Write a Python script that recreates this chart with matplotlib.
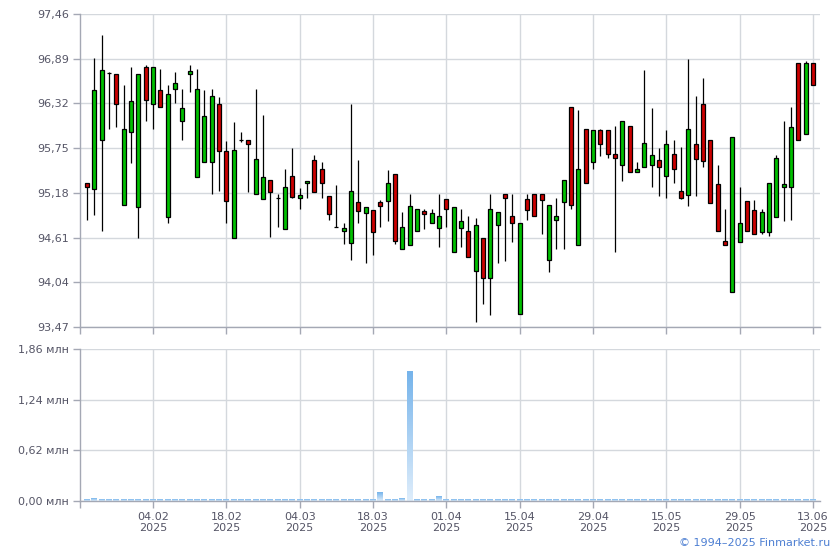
import matplotlib
matplotlib.use('Agg')
import matplotlib.pyplot as plt
import numpy as np
from matplotlib.colors import LinearSegmentedColormap

# OHLC по торговым дням (индекс = номер свечи)
opens = [95.30, 95.23, 95.85, 96.71, 96.69, 95.03, 95.96, 95.00, 96.79, 96.31,
         96.49, 94.87, 96.51, 96.10, 96.70, 95.38, 95.57, 95.57, 96.31, 95.71,
         94.61, 95.85, 95.85, 95.16, 95.10, 95.35, 95.11, 94.72, 95.40, 95.12,
         95.30, 95.60, 95.48, 95.14, 94.75, 94.70, 94.54, 95.06, 94.92, 94.96,
         95.06, 95.07, 95.42, 94.46, 94.52, 94.70, 94.95, 94.79, 94.73, 95.10,
         94.43, 94.73, 94.70, 94.18, 94.60, 94.10, 94.77, 95.16, 94.89, 93.64,
         95.10, 95.16, 95.16, 94.32, 94.84, 95.06, 96.28, 94.51, 95.99, 95.57,
         95.98, 95.98, 95.67, 95.53, 96.03, 95.45, 95.51, 95.53, 95.60, 95.40,
         95.67, 95.20, 95.15, 95.80, 96.31, 95.86, 95.29, 94.56, 93.91, 94.55,
         95.07, 94.96, 94.68, 94.68, 94.87, 95.25, 95.26, 96.83, 95.93, 96.83]
highs = [95.30, 96.90, 97.19, 96.72, 96.69, 96.55, 96.79, 96.70, 96.81, 96.79,
         96.76, 96.56, 96.72, 96.51, 96.81, 96.76, 96.49, 96.50, 96.40, 95.84,
         96.08, 95.95, 95.85, 96.50, 96.17, 95.35, 95.16, 95.48, 95.75, 95.24,
         95.33, 95.66, 95.57, 95.14, 95.28, 94.80, 96.31, 95.60, 95.00, 94.96,
         95.09, 95.47, 95.42, 94.93, 95.16, 94.97, 94.97, 94.97, 95.17, 95.10,
         95.00, 94.98, 94.89, 94.86, 94.60, 95.16, 94.93, 95.16, 95.16, 94.80,
         95.16, 95.16, 95.16, 95.02, 95.12, 95.35, 96.28, 96.23, 95.99, 95.98,
         96.00, 95.98, 96.03, 96.09, 96.03, 95.57, 96.74, 96.26, 95.75, 95.98,
         95.86, 95.77, 96.88, 96.42, 96.64, 95.86, 95.54, 94.97, 95.89, 95.26,
         95.07, 95.09, 94.97, 95.31, 95.66, 96.09, 96.28, 96.83, 96.86, 96.83]
lows = [94.83, 94.90, 94.69, 96.00, 96.02, 95.03, 95.56, 94.61, 96.10, 95.99,
        96.27, 94.79, 96.33, 95.85, 96.46, 95.38, 95.57, 95.16, 95.21, 94.79,
        94.61, 95.83, 95.19, 95.16, 95.10, 94.62, 94.74, 94.72, 95.12, 94.98,
        95.11, 95.19, 95.12, 94.84, 94.74, 94.53, 94.33, 94.79, 94.29, 94.39,
        94.74, 94.82, 94.53, 94.46, 94.52, 94.70, 94.72, 94.79, 94.49, 94.74,
        94.43, 94.49, 94.36, 93.54, 93.76, 93.62, 94.28, 94.31, 94.55, 93.64,
        94.84, 94.89, 94.65, 94.17, 94.47, 94.47, 94.97, 94.51, 95.30, 95.48,
        95.65, 95.62, 94.43, 95.33, 95.45, 95.45, 95.51, 95.26, 95.14, 95.11,
        95.30, 95.10, 95.01, 95.14, 95.51, 95.05, 94.70, 94.51, 93.91, 94.55,
        94.70, 94.65, 94.66, 94.63, 94.87, 94.82, 94.84, 95.85, 95.93, 96.55]
closes = [95.25, 96.49, 96.74, 96.71, 96.31, 96.00, 96.35, 96.70, 96.37, 96.79,
          96.27, 96.44, 96.58, 96.26, 96.73, 96.50, 96.16, 96.42, 95.71, 95.07,
          95.72, 95.85, 95.80, 95.61, 95.38, 95.19, 95.11, 95.25, 95.13, 95.15,
          95.33, 95.19, 95.30, 94.91, 94.75, 94.73, 95.20, 94.95, 95.00, 94.68,
          95.01, 95.31, 94.56, 94.75, 95.01, 94.97, 94.91, 94.92, 94.88, 94.97,
          95.00, 94.82, 94.36, 94.77, 94.10, 94.98, 94.93, 95.11, 94.79, 94.79,
          94.96, 94.89, 95.09, 95.02, 94.88, 95.35, 95.02, 95.49, 95.30, 95.98,
          95.80, 95.67, 95.63, 96.09, 95.45, 95.48, 95.81, 95.66, 95.51, 95.80,
          95.48, 95.11, 96.00, 95.61, 95.58, 95.05, 94.70, 94.51, 95.89, 94.80,
          94.70, 94.65, 94.93, 95.31, 95.62, 95.29, 96.02, 95.85, 96.83, 96.55]
# объём, млн
volumes = [0.02, 0.03, 0.02, 0.02, 0.02, 0.02, 0.02, 0.02, 0.02, 0.02,
           0.02, 0.02, 0.02, 0.02, 0.02, 0.02, 0.02, 0.02, 0.02, 0.02,
           0.02, 0.02, 0.02, 0.02, 0.02, 0.02, 0.02, 0.02, 0.02, 0.02,
           0.02, 0.02, 0.02, 0.02, 0.02, 0.02, 0.02, 0.02, 0.02, 0.02,
           0.10, 0.02, 0.02, 0.03, 1.59, 0.02, 0.02, 0.02, 0.05, 0.02,
           0.02, 0.02, 0.02, 0.02, 0.02, 0.02, 0.02, 0.02, 0.02, 0.02,
           0.02, 0.02, 0.02, 0.02, 0.02, 0.02, 0.02, 0.02, 0.02, 0.02,
           0.02, 0.02, 0.02, 0.02, 0.02, 0.02, 0.02, 0.02, 0.02, 0.02,
           0.02, 0.02, 0.02, 0.02, 0.02, 0.02, 0.02, 0.02, 0.02, 0.02,
           0.02, 0.02, 0.02, 0.02, 0.02, 0.02, 0.02, 0.02, 0.02, 0.02]

tick_pos = [9, 19, 29, 39, 49, 59, 69, 79, 89, 99]
tick_labels = ['04.02\n2025', '18.02\n2025', '04.03\n2025', '18.03\n2025', '01.04\n2025',
               '15.04\n2025', '29.04\n2025', '15.05\n2025', '29.05\n2025', '13.06\n2025']
price_ticks = [93.47, 94.04, 94.61, 95.18, 95.75, 96.32, 96.89, 97.46]
vol_ticks = [0.0, 0.62, 1.24, 1.86]

GRID = '#d4d8dd'
SPINE = '#a4a8b4'
TXT = '#555566'

fig = plt.figure(figsize=(8.4, 5.5), dpi=100)
ax = fig.add_axes([80/840, 1 - 327/550, 740/840, 313/550])
axv = fig.add_axes([80/840, 1 - 501/550, 740/840, 151.7/550])

x = np.arange(len(opens))
o = np.array(opens); c = np.array(closes)

# свечи
ax.vlines(x, lows, highs, color='black', lw=0.9, zorder=2)
colors = ['#00c000' if cc > oo else ('#cc0000' if cc < oo else 'black') for oo, cc in zip(o, c)]
ax.bar(x, np.abs(c - o), bottom=np.minimum(o, c), width=0.52, color=colors,
       edgecolor='black', linewidth=0.9, zorder=3)

# объёмы с градиентом
cmap = LinearSegmentedColormap.from_list('vol', ['#deedfb', '#76b4eb'])
grad = np.linspace(0, 1, 64).reshape(-1, 1)
for xi, v in zip(x, volumes):
    axv.imshow(grad, extent=[xi - 0.4, xi + 0.4, 0, v], origin='lower',
               cmap=cmap, aspect='auto', zorder=2)

for a in (ax, axv):
    a.set_xlim(-0.95, 99.95)
    a.set_xticks(tick_pos)
    a.set_xticks([-0.95], minor=True)
    a.grid(True, color=GRID, lw=1, zorder=0)
    a.set_axisbelow(True)
    for s in ('top', 'right'):
        a.spines[s].set_visible(False)
    for s in ('left', 'bottom'):
        a.spines[s].set_color(SPINE)
        a.spines[s].set_linewidth(1)
    a.tick_params(axis='both', which='both', color=SPINE, labelsize=8, labelcolor=TXT,
                  length=5, width=1, pad=3)

ax.set_ylim(93.47, 97.46)
ax.set_yticks(price_ticks)
ax.set_yticklabels([('%.2f' % t).replace('.', ',') for t in price_ticks])
ax.set_xticklabels([])

axv.set_ylim(0, 1.86)
axv.set_yticks(vol_ticks)
axv.set_yticklabels([('%.2f' % t).replace('.', ',') + ' млн' for t in vol_ticks])
axv.set_xticklabels(tick_labels)
for t in axv.get_xticklabels():
    t.set_linespacing(1.05)

fig.text(830/840, 1 - 543/550, '© 1994–2025 Finmarket.ru', ha='right', va='center',
         fontsize=8, color='#4d7fd2')

fig.savefig('out.png', dpi=100)
